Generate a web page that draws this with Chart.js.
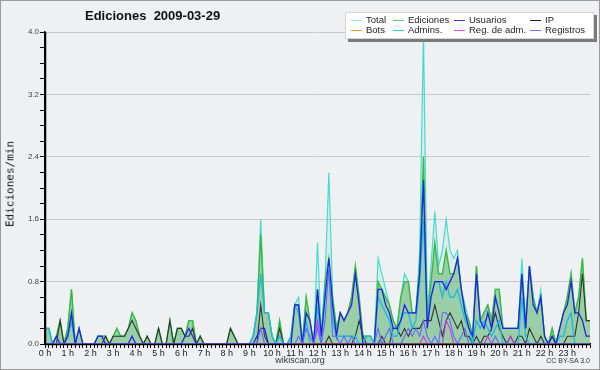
<!DOCTYPE html>
<html><head><meta charset="utf-8">
<script src="https://cdn.jsdelivr.net/npm/chart.js@4.4.1/dist/chart.umd.min.js"></script>
<style>
html,body{margin:0;padding:0;background:#eff0f1;}
#wrap{position:relative;width:600px;height:370px;background:#eff0f1;overflow:hidden;font-family:'Liberation Sans',Arial,sans-serif;}
canvas{position:absolute;left:0;top:0;}
#frame{position:absolute;left:0;top:0;width:600px;height:370px;box-sizing:border-box;border:1px solid #9a9a9a;pointer-events:none;}
#title{position:absolute;left:85px;top:8px;font:bold 13px 'Liberation Sans',sans-serif;white-space:pre;color:#111;line-height:15px;}
#ytitle{position:absolute;left:9.5px;top:184px;transform:translate(-50%,-50%) rotate(-90deg);font:11px 'DejaVu Sans Mono',monospace;color:#111;white-space:nowrap;}
#site{position:absolute;left:0;width:600px;top:355px;text-align:center;font:9px 'Liberation Sans',sans-serif;color:#333;}
#cc{position:absolute;right:10px;top:357px;font:7px 'Liberation Sans',sans-serif;color:#333;}
#legend{position:absolute;left:345px;top:12px;width:247px;height:25px;background:#fff;border:1px solid #d4d4d4;box-shadow:3px 3px 0 #7a7a7a;}
.li{position:absolute;font:9.5px 'Liberation Sans',sans-serif;color:#222;line-height:10px;white-space:nowrap;}
.ls{position:absolute;width:11px;height:1px;}
</style></head>
<body><div id="wrap">
<canvas id="c" width="600" height="370"></canvas>
<div id="title">Ediciones  2009-03-29</div>
<div id="ytitle">Ediciones/min</div>
<div id="site">wikiscan.org</div>
<div id="cc">CC BY-SA 3.0</div>
<div id="legend"></div>
<div id="frame"></div>
</div>
<script>
// Hour tick labels
const hourLabels = ['0 h','1 h','2 h','3 h','4 h','5 h','6 h','7 h','8 h','9 h','10 h','11 h',
  '12 h','13 h','14 h','15 h','16 h','17 h','18 h','19 h','20 h','21 h','22 h','23 h'];
// Series values (edits/min, 10-minute slots, 0:00 .. 24:00)
const total = [
 .2,.2,0,.1,.3,0,.2,.7,0,.2,0,0,
 0,0,.1,.1,.1,0,.1,.2,.1,.1,.2,.4,
 .3,.1,0,.1,0,0,.2,0,0,.3,0,.2,
 .2,.1,.3,.3,0,.1,0,0,0,0,0,0,
 0,.2,.1,0,0,0,0,.1,.4,1.6,.4,.4,
 .1,0,.3,0,0,.1,.5,.6,0,.6,.3,0,
 1.3,.1,.8,2.2,.6,.2,.4,.3,.4,.6,1.0,.6,
 .1,.1,.1,0,1.1,.9,.7,.5,.3,.2,.6,.9,
 .8,.4,.4,1.2,4.0,.4,1.0,1.7,1.0,1.2,1.6,1.2,
 1.1,1.2,.7,.5,.3,.1,1.0,.3,.4,.5,.3,.7,
 .7,.2,.2,.2,.2,.2,1.1,.3,1.0,.6,.4,.7,
 .1,0,.2,0,.2,.4,.6,.9,.4,.6,1.1,.3,
 .3];
const ediciones = [
 .2,.2,0,.1,.3,0,.2,.7,0,.2,0,0,
 0,0,.1,.1,.1,0,.1,.2,.1,.1,.2,.4,
 .3,.1,0,.1,0,0,.2,0,0,.3,0,.2,
 .2,.1,.3,.3,0,.1,0,0,0,0,0,0,
 0,.2,.1,0,0,0,0,.1,.4,1.4,.4,.4,
 .1,0,.3,0,0,.1,.5,.5,0,.6,.3,0,
 .7,.1,.8,1.1,.6,.2,.4,.3,.4,.6,1.0,.6,
 .1,.1,.1,0,.8,.7,.6,.5,.3,.2,.6,.8,
 .8,.4,.4,1.0,2.4,.3,.8,1.3,.9,.9,1.2,.9,
 .9,1.1,.7,.4,.3,.1,1.0,.3,.4,.5,.3,.7,
 .7,.2,.2,.2,.2,.2,.9,.2,1.0,.6,.4,.6,
 .1,0,.2,0,.2,.4,.6,.9,.4,.6,1.1,.3,
 .3];
const usuarios = [
 0,0,0,.1,0,0,.1,.4,0,.2,0,0,
 0,0,.1,.1,0,0,0,0,0,0,0,.1,
 0,0,0,0,0,0,0,0,0,0,0,0,
 0,.1,.2,.1,0,0,0,0,0,0,0,0,
 0,0,0,0,0,0,0,0,.1,.2,.2,0,
 0,0,0,0,0,0,.5,.5,0,.4,.3,0,
 .7,.1,.6,1.1,.5,.1,.4,.3,.4,.5,.9,.5,
 0,0,0,0,.7,.7,.5,.4,.2,.2,.3,.5,
 .4,.4,.4,.9,2.1,.2,.6,.8,.8,.8,.7,.8,
 .9,1.1,.7,.4,.2,.1,.9,.3,.2,.4,.2,.6,
 .4,.2,.2,.2,.2,.2,.9,.2,1.0,.5,.4,.6,
 .1,0,.1,0,.2,.4,.5,.8,.4,.4,.3,.1,
 .1];
const ip = [
 0,0,0,0,.3,0,.1,.3,0,0,0,0,
 0,0,0,0,.1,0,.1,.1,.1,.1,.2,.3,
 .2,.1,0,.1,0,0,.2,0,0,.3,0,.2,
 .2,.1,.1,.2,0,.1,0,0,0,0,0,0,
 0,.2,.1,0,0,0,0,0,0,.5,.1,0,
 0,0,.2,0,0,0,0,0,0,0,0,0,
 0,0,0,.1,0,0,0,0,0,0,.1,.3,
 .1,0,0,0,0,.1,0,0,.2,.2,.1,.2,
 .1,.2,.2,.2,.3,.3,.3,.5,.3,.1,.3,.4,
 .3,.2,.3,.1,.1,0,.1,0,.1,.1,.2,.4,
 .2,.1,0,.1,0,.1,.1,0,.2,.1,0,.1,
 0,0,.1,0,0,0,.1,.1,.1,.4,.9,.3,
 .3];
const bots = [
 0,0,0,0,0,0,0,0,0,0,0,0, 0,0,0,0,0,0,0,0,0,0,0,0,
 0,0,0,0,0,0,0,0,0,0,0,0, 0,0,0,0,0,0,0,0,0,0,0,0,
 0,0,0,0,0,0,0,0,0,0,0,0, 0,0,0,0,0,0,0,0,0,0,0,0,
 0,0,0,0,0,0,0,0,0,0,0,0, 0,0,0,0,0,0,0,0,0,0,0,0,
 0,0,0,0,0,0,0,0,0,0,0,0, 0,0,0,0,0,0,0,0,0,0,0,0,
 0,0,0,0,0,0,0,0,0,0,0,0, 0,0,0,0,0,0,0,0,0,0,0,0,
 0];
const admins = [
 .2,.2,0,0,0,0,.1,.3,0,0,0,0,
 0,0,0,0,0,0,0,0,0,0,0,0,
 0,0,0,0,0,0,0,0,0,0,0,0,
 0,0,0,0,0,0,0,0,0,0,0,0,
 0,0,0,0,0,0,0,.1,.4,.9,.4,.4,
 .1,0,.1,0,0,.1,.5,.4,0,.3,0,0,
 .5,0,.7,.9,.3,.1,.1,.1,.1,.1,.1,0,
 0,.1,.1,0,.6,.5,.4,.3,.1,.1,.3,.4,
 .4,.2,.3,.8,1.6,.3,.6,.8,.8,.6,.8,.6,
 .6,.7,.5,.3,.2,0,.3,.2,.3,.2,.1,.2,
 .3,0,0,0,0,0,.6,.1,0,0,0,0,
 0,0,0,0,.1,.1,.3,.4,0,0,0,0,
 0];
const regAdm = [
 0,0,0,0,0,0,0,0,0,0,0,0, 0,0,0,0,0,0,0,0,0,0,0,0,
 0,0,0,0,0,0,0,0,0,0,0,0, 0,0,0,0,0,0,0,0,0,0,0,0,
 0,0,0,0,0,0,0,0,0,0,0,0, 0,0,0,0,0,0,0,0,0,0,0,0,
 .3,0,0,0,0,0,0,0,0,0,0,0, 0,0,0,0,0,0,0,0,0,0,0,0,
 0,0,0,0,.1,0,0,0,0,0,.3,.2, 0,0,0,0,0,0,0,0,0,.1,0,0,
 0,0,0,.1,0,0,0,0,0,0,0,0, 0,0,0,0,0,0,0,0,0,0,0,0,
 0];
const registros = [
 0,0,0,0,0,0,0,0,0,0,0,0, 0,0,0,0,0,0,0,0,0,0,0,0,
 0,0,0,0,0,0,0,0,0,0,0,0, 0,0,0,0,0,0,0,0,0,0,0,0,
 0,0,0,0,0,0,0,0,0,.2,0,0, 0,0,0,0,0,0,0,.1,0,.2,.1,0,
 .2,0,.3,1.0,.1,.1,0,.1,0,.1,0,0, 0,0,0,0,.2,0,.1,.2,0,0,0,.1,
 .2,.1,.2,.1,.3,.1,0,.1,0,.4,.4,.3, .1,0,.1,.2,0,0,0,0,0,0,0,.1,
 0,0,0,0,0,0,0,0,0,0,0,0, 0,0,0,0,0,0,0,0,0,0,0,0,
 0];

const slots = [];
for (let h = 0; h <= 24; h++) {
  for (let m = 0; m < 6; m++) {
    if (h === 24 && m > 0) break;
    slots.push(m === 0 && h < 24 ? hourLabels[h] : '');
  }
}

const series = [
  {label:'Total', data: total, color:'#44dccf', legend:'#8fe8e0', w:1.2, order:8, fill:'rgba(64,224,208,0.13)'},
  {label:'Ediciones', data: ediciones, color:'#3cb840', legend:'#6ccc6c', w:1.4, order:7, fill:'rgba(70,165,70,0.42)'},
  {label:'Usuarios', data: usuarios, color:'#2222e6', legend:'#3535e0', w:1.3, order:3},
  {label:'IP', data: ip, color:'#333333', legend:'#222222', w:1.1, order:6},
  {label:'Bots', data: bots, color:'#ff9a1a', legend:'#ff9a1a', w:1.1, order:4},
  {label:'Admins.', data: admins, color:'#22b8e6', legend:'#2ccbe0', w:1.4, order:5},
  {label:'Reg. de adm.', data: regAdm, color:'#cc33ee', legend:'#dd44ff', w:1.1, order:2},
  {label:'Registros', data: registros, color:'#6666ff', legend:'#7070ff', w:1.1, order:1}
];

// HTML legend
const leg = document.getElementById('legend');
const colX = [5, 47, 108, 184];
const rowY = [2, 12];
series.forEach((s, k) => {
  const col = k % 4, row = Math.floor(k / 4);
  const ln = document.createElement('div');
  ln.className = 'ls';
  ln.style.left = colX[col] + 'px';
  ln.style.top = (rowY[row] + 5) + 'px';
  ln.style.background = s.legend;
  leg.appendChild(ln);
  const t = document.createElement('div');
  t.className = 'li';
  t.style.left = (colX[col] + 15) + 'px';
  t.style.top = rowY[row] + 'px';
  t.textContent = s.label;
  leg.appendChild(t);
});

const isMajor = v => Math.abs(v / 0.8 - Math.round(v / 0.8)) < 1e-6;

const axisLines = {
  id: 'axisLines',
  afterDatasetsDraw(c) {
    const {ctx, chartArea: a} = c;
    ctx.save();
    ctx.strokeStyle = '#000';
    ctx.lineWidth = 1.5;
    ctx.beginPath();
    ctx.moveTo(a.left + 0.5, a.top);
    ctx.lineTo(a.left + 0.5, a.bottom + 0.5);
    ctx.lineTo(a.right, a.bottom + 0.5);
    ctx.stroke();
    ctx.restore();
  }
};

new Chart(document.getElementById('c'), {
  type: 'line',
  data: {
    labels: slots,
    datasets: series.map(s => ({
      label: s.label,
      data: s.data,
      borderColor: s.color,
      borderWidth: s.w,
      backgroundColor: s.fill || 'transparent',
      fill: s.fill ? 'origin' : false,
      pointRadius: 0,
      tension: 0,
      order: s.order
    }))
  },
  options: {
    responsive: false,
    animation: false,
    devicePixelRatio: 1,
    layout: {padding: {left: 0, right: 10, top: 32, bottom: 0}},
    plugins: {
      legend: {display: false},
      tooltip: {enabled: false},
      title: {display: false},
      filler: {drawTime: 'beforeDatasetsDraw'}
    },
    scales: {
      x: {
        type: 'category',
        offset: false,
        afterFit: s => { s.height = 26; },
        border: {display: true, color: '#000', width: 1.5},
        grid: {display: true, drawOnChartArea: false, drawTicks: true, tickLength: 4, tickColor: '#000', tickWidth: 1},
        ticks: {
          autoSkip: false, maxRotation: 0, minRotation: 0, padding: 0,
          color: '#222', font: {family: 'Liberation Sans', size: 9},
          callback: (v, i) => slots[i]
        }
      },
      y: {
        min: 0, max: 4,
        afterFit: s => { s.width = 45; },
        border: {display: true, color: '#000', width: 1.5},
        grid: {
          display: true, drawTicks: true, tickLength: 5,
          color: ctx => (ctx.tick && ctx.tick.value > 0 && isMajor(ctx.tick.value)) ? '#c9c9c9' : 'rgba(0,0,0,0)',
          tickColor: '#000', lineWidth: 1
        },
        ticks: {
          stepSize: 0.2, padding: 1,
          color: '#444', font: {family: 'Liberation Sans', size: 8},
          callback: v => isMajor(v) ? v.toFixed(1) : ''
        }
      }
    }
  },
  plugins: [axisLines]
});
</script>
</body></html>
